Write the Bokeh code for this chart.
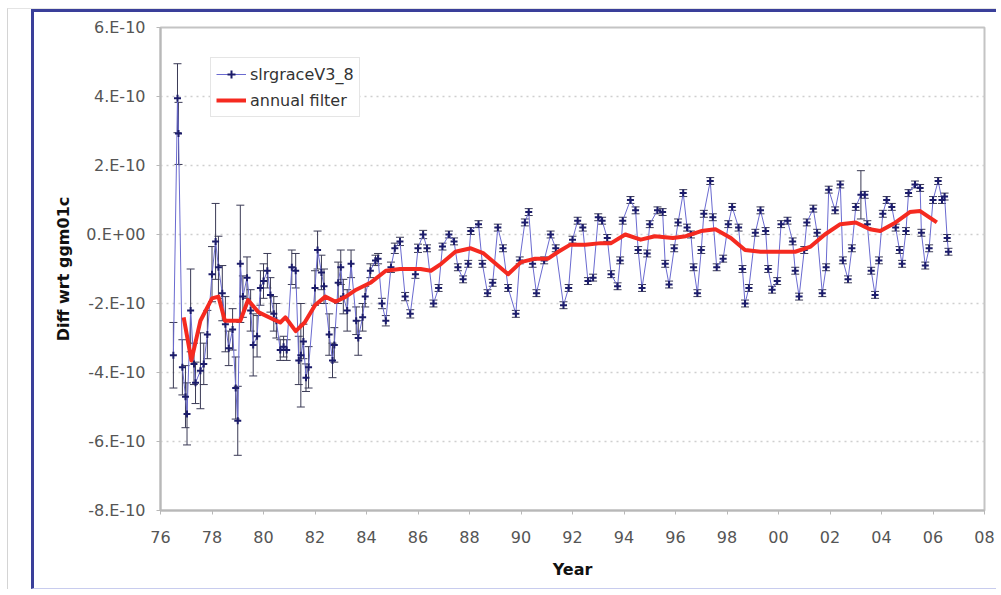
from bokeh.plotting import figure
from bokeh.layouts import column
from bokeh.models import (ColumnDataSource, Whisker, FixedTicker, Legend, LegendItem)
from bokeh.embed import file_html
from bokeh.resources import INLINE

# ---- data (values in units of 1e-10) ----
years = [76.50, 76.66, 76.70, 76.85, 76.97, 77.03, 77.17, 77.30, 77.36, 77.55, 77.68, 77.82,
         78.00, 78.14, 78.25, 78.40, 78.52, 78.65, 78.80, 78.92, 79.00, 79.10, 79.20, 79.36,
         79.50, 79.60, 79.75, 79.88, 80.00, 80.15, 80.27, 80.40, 80.50, 80.65, 80.78, 80.90,
         81.10, 81.25, 81.37, 81.45, 81.55, 81.65, 81.75, 82.00, 82.10, 82.25, 82.35, 82.55,
         82.68, 82.75, 82.90, 83.00, 83.10, 83.25, 83.40, 83.60, 83.68, 83.85, 83.95, 84.15,
         84.35, 84.45, 84.60, 84.75, 84.95, 85.10, 85.30, 85.50, 85.70, 85.90, 86.00, 86.20,
         86.35, 86.60, 86.80, 86.95, 87.20, 87.40, 87.55, 87.75, 87.95, 88.05, 88.35, 88.50,
         88.70, 88.90, 89.10, 89.30, 89.50, 89.80, 89.95, 90.15, 90.30, 90.45, 90.60, 90.90,
         91.15, 91.35, 91.65, 91.85, 92.00, 92.20, 92.40, 92.60, 92.80, 93.00, 93.15, 93.35,
         93.50, 93.75, 93.85, 93.95, 94.25, 94.45, 94.55, 94.70, 94.90, 95.00, 95.30, 95.50,
         95.60, 95.75, 95.95, 96.10, 96.30, 96.45, 96.60, 96.70, 96.85, 97.00, 97.10, 97.35,
         97.45, 97.60, 97.85, 98.05, 98.20, 98.45, 98.60, 98.70, 98.85, 99.10, 99.30, 99.50,
         99.60, 99.75, 99.95, 100.10, 100.35, 100.55, 100.65, 100.80, 101.00, 101.10, 101.35, 101.50,
         101.70, 101.85, 101.95, 102.20, 102.40, 102.50, 102.70, 102.85, 103.00, 103.20, 103.35, 103.45,
         103.60, 103.75, 103.90, 104.05, 104.20, 104.40, 104.55, 104.70, 104.80, 104.95, 105.05, 105.30,
         105.50, 105.55, 105.70, 105.85, 106.00, 106.20, 106.35, 106.45, 106.55, 106.60]

slr = [-3.50, 3.95, 2.93, -3.85, -4.70, -5.20, -2.20, -3.75, -4.30, -3.95, -3.75, -2.90,
       -1.15, -0.20, -0.95, -1.70, -2.60, -3.30, -2.75, -4.45, -5.40, -0.85, -1.80, -1.25,
       -2.20, -3.20, -2.95, -1.55, -1.35, -1.05, -1.75, -2.30, -2.50, -3.35, -3.25, -3.35,
       -0.95, -1.05, -3.65, -3.50, -3.10, -4.15, -3.85, -1.55, -0.45, -1.10, -1.50, -2.90,
       -3.65, -3.20, -1.40, -0.95, -1.80, -2.20, -0.85, -2.50, -3.00, -2.40, -1.80, -1.05,
       -0.75, -0.70, -2.00, -2.50, -0.95, -0.40, -0.20, -1.80, -2.30, -1.15, -0.40, 0.00,
       -0.40, -2.00, -1.55, -0.35, 0.00, -0.20, -0.95, -1.30, -0.85, 0.10, 0.30, -0.85,
       -1.70, -1.40, 0.20, -0.40, -1.55, -2.30, -0.75, 0.35, 0.65, -0.85, -1.70, -0.75,
       0.00, -0.40, -2.05, -1.55, -0.15, 0.40, 0.20, -1.35, -1.25, 0.50, 0.40, -0.10,
       -1.15, -1.50, -0.75, 0.40, 1.00, 0.70, -0.45, -1.55, -0.55, 0.30, 0.70, 0.65,
       -0.85, -1.45, -0.40, 0.35, 1.20, 0.20, 0.00, -0.95, -1.70, -0.45, 0.60, 1.55,
       0.50, -0.95, -0.70, 0.30, 0.80, 0.20, -1.00, -2.00, -1.55, 0.05, 0.70, 0.10,
       -1.00, -1.60, -1.35, 0.30, 0.40, -0.20, -1.05, -1.80, -0.45, 0.35, 0.75, 0.05,
       -1.70, -0.95, 1.30, 0.70, 1.45, -0.75, -1.30, -0.40, 0.80, 1.15, 1.15, 0.30,
       -1.05, -1.75, -0.75, 0.60, 1.00, 0.80, 0.20, -0.45, -0.85, 0.10, 1.20, 1.45,
       1.35, 0.05, -0.90, -0.40, 1.00, 1.55, 1.00, 1.10, -0.10, -0.50]

err = [0.95, 1.00, 0.90, 0.80, 0.90, 0.90, 1.20, 0.60, 0.60, 1.10, 0.60, 0.70,
       0.80, 1.10, 0.90, 0.80, 0.80, 0.50, 0.60, 0.90, 1.00, 1.70, 0.60, 0.60,
       0.60, 0.90, 0.60, 0.50, 0.50, 0.50, 0.50, 0.50, 0.50, 0.30, 0.30, 0.30,
       0.50, 0.50, 0.70, 1.50, 0.50, 0.40, 0.60, 0.50, 0.55, 0.50, 0.50, 0.60,
       0.50, 0.50, 0.60, 0.50, 0.50, 0.60, 0.40, 0.40, 0.50, 0.40, 0.30, 0.20,
       0.15, 0.15, 0.15, 0.15, 0.15, 0.15, 0.12, 0.12, 0.12, 0.12, 0.12, 0.12,
       0.10, 0.10, 0.10, 0.10, 0.10, 0.10, 0.10, 0.10, 0.10, 0.10, 0.10, 0.10,
       0.10, 0.10, 0.10, 0.10, 0.10, 0.10, 0.10, 0.10, 0.10, 0.10, 0.10, 0.10,
       0.10, 0.10, 0.10, 0.10, 0.10, 0.10, 0.10, 0.10, 0.10, 0.10, 0.10, 0.10,
       0.10, 0.10, 0.10, 0.10, 0.10, 0.10, 0.10, 0.10, 0.10, 0.10, 0.10, 0.10,
       0.10, 0.10, 0.10, 0.10, 0.10, 0.10, 0.10, 0.10, 0.10, 0.10, 0.10, 0.10,
       0.10, 0.10, 0.10, 0.10, 0.10, 0.10, 0.10, 0.10, 0.10, 0.10, 0.10, 0.10,
       0.10, 0.10, 0.10, 0.10, 0.10, 0.10, 0.10, 0.10, 0.10, 0.10, 0.10, 0.10,
       0.10, 0.10, 0.10, 0.10, 0.10, 0.10, 0.10, 0.10, 0.10, 0.70, 0.10, 0.10,
       0.10, 0.10, 0.10, 0.10, 0.10, 0.10, 0.10, 0.10, 0.10, 0.10, 0.10, 0.10,
       0.10, 0.10, 0.10, 0.10, 0.10, 0.10, 0.10, 0.10, 0.10, 0.10]

filt_years = [76.9, 77.2, 77.55, 78.0, 78.25, 78.5, 79.1, 79.4, 79.8, 80.35, 80.65, 80.85,
              81.25, 81.6, 82.0, 82.4, 82.8, 83.2, 83.6, 84.15, 84.75, 85.3, 86.1, 86.5,
              86.9, 87.45, 88.05, 88.55, 89.1, 89.5, 90.0, 90.55, 91.05, 91.45, 91.9, 92.5,
              93.1, 93.5, 94.05, 94.65, 95.2, 95.9, 96.4, 97.0, 97.55, 98.15, 98.7, 99.3,
              100.1, 100.65, 101.25, 101.8, 102.4, 103.0, 103.55, 103.95, 104.55, 105.1, 105.5, 106.15]
filt = [-2.40, -3.65, -2.50, -1.85, -1.80, -2.50, -2.50, -1.90, -2.25, -2.45, -2.55, -2.40,
        -2.80, -2.55, -2.05, -1.80, -1.95, -1.80, -1.60, -1.40, -1.05, -1.00, -1.00, -1.05,
        -0.85, -0.50, -0.40, -0.55, -0.90, -1.15, -0.80, -0.70, -0.70, -0.50, -0.30, -0.30,
        -0.25, -0.25, 0.00, -0.15, -0.05, -0.10, -0.05, 0.10, 0.15, -0.10, -0.45, -0.50,
        -0.50, -0.50, -0.35, 0.00, 0.30, 0.35, 0.15, 0.10, 0.35, 0.65, 0.68, 0.35]

y_ticks = [-8, -6, -4, -2, 0, 2, 4, 6]
y_tick_labels = ["-8.E-10", "-6.E-10", "-4.E-10", "-2.E-10", "0.E+00", "2.E-10", "4.E-10", "6.E-10"]
x_ticks = list(range(76, 110, 2))
x_tick_labels = ["76", "78", "80", "82", "84", "86", "88", "90", "92", "94", "96", "98",
                 "00", "02", "04", "06", "08"]

FONT = "DejaVu Sans"

src = ColumnDataSource(dict(x=years, y=slr,
                            lo=[a - b for a, b in zip(slr, err)],
                            hi=[a + b for a, b in zip(slr, err)]))
fsrc = ColumnDataSource(dict(x=filt_years, y=filt))

# canvas placed at (34, 12) on the page thanks to margins + CSS borders
p = figure(width=965, height=580, output_backend="svg", toolbar_location=None,
           x_range=(76, 108), y_range=(-8, 6),
           min_border_left=126, min_border_right=15, min_border_top=15, min_border_bottom=82)
p.margin = (0, 0, 0, 23)
p.styles = {"border-left": "3px solid #3a3f9a", "border-top": "3px solid #3a3f9a",
            "border-bottom": "1px solid #c8ccee"}
p.background_fill_color = "white"
p.border_fill_color = "white"
p.outline_line_color = "#c4c4c4"
p.outline_line_width = 2

whisk = Whisker(source=src, base="x", upper="hi", lower="lo", dimension="height",
                line_color="#3a3a55", line_width=1)
whisk.upper_head.size = 8
whisk.lower_head.size = 8
whisk.upper_head.line_color = "#3a3a55"
whisk.lower_head.line_color = "#3a3a55"
p.add_layout(whisk)

l1 = p.line("x", "y", source=src, line_color="#6a6ad0", line_width=1)
s1 = p.scatter("x", "y", source=src, marker="cross", size=7, line_color="#1c1c6a", line_width=2)
l2 = p.line("x", "y", source=fsrc, line_color="#f52a20", line_width=4, line_join="round")

legend = Legend(items=[LegendItem(label="slrgraceV3_8", renderers=[l1, s1]),
                       LegendItem(label="annual filter", renderers=[l2])],
                location=(50, 393), label_text_font=FONT, label_text_font_size="16px",
                label_text_color="#333333", border_line_color="#cccccc", border_line_width=1,
                background_fill_color="white", background_fill_alpha=1,
                glyph_width=30, glyph_height=20, label_height=22, label_standoff=4,
                padding=5, spacing=4, margin=0)
p.add_layout(legend, "center")

p.xgrid.visible = False
p.ygrid.grid_line_color = "#cfcfcf"
p.ygrid.grid_line_dash = "2 4"
p.ygrid.grid_line_width = 1.5

p.yaxis.ticker = FixedTicker(ticks=y_ticks)
p.yaxis.major_label_overrides = {t: l for t, l in zip(y_ticks, y_tick_labels)}
p.xaxis.ticker = FixedTicker(ticks=x_ticks)
p.xaxis.major_label_overrides = {t: l for t, l in zip(x_ticks, x_tick_labels)}

for ax in (p.xaxis[0], p.yaxis[0]):
    ax.axis_line_color = "#b8b8b8"
    ax.axis_line_width = 2
    ax.major_tick_line_color = "#b8b8b8"
    ax.major_tick_in = 0
    ax.major_tick_out = 4
    ax.minor_tick_line_color = None
    ax.major_label_text_font = FONT
    ax.major_label_text_font_size = "16px"
    ax.major_label_text_color = "#555555"
    ax.axis_label_text_font = FONT
    ax.axis_label_text_font_size = "16px"
    ax.axis_label_text_font_style = "bold"
    ax.axis_label_text_color = "#111111"

p.xaxis.axis_label = "Year"
p.xaxis.major_label_standoff = 16
p.xaxis.axis_label_standoff = 14
p.yaxis.axis_label = "Diff wrt ggm01c"
p.yaxis.major_label_standoff = 11
p.yaxis.axis_label_standoff = 10

page = column(p, margin=(8, 0, 0, 7),
              styles={"border-left": "1px solid #d4d4d4", "border-top": "1px solid #e4e4e4"})

open("out.html", "w").write(file_html(page, INLINE))
